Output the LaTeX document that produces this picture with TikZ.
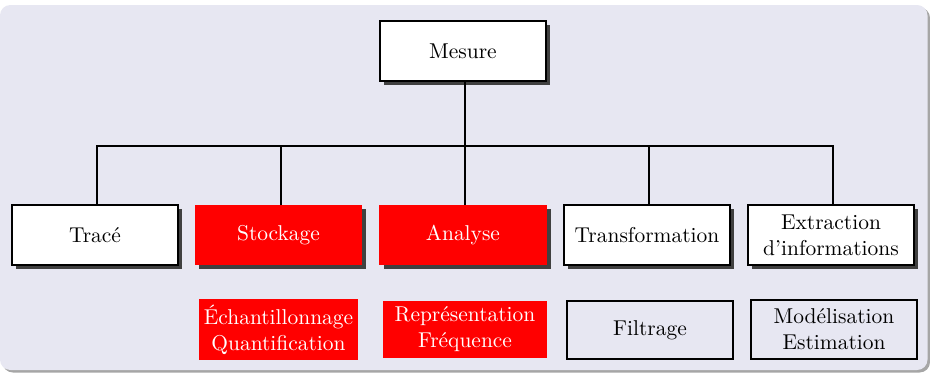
\documentclass[tikz,border=0pt]{standalone}
\usetikzlibrary{shadows}
\definecolor{bgcol}{RGB}{231,231,242}
\definecolor{shcol}{RGB}{64,64,64}
\tikzset{
  base/.style={inner sep=0pt, align=center, font=\fontsize{10.3pt}{12.4pt}\selectfont},
  whitebox/.style={base, draw=black, line width=0.8pt, fill=white,
    drop shadow={shadow xshift=2.1pt, shadow yshift=-2.1pt, fill=shcol, opacity=1}},
  redbox/.style={base, fill=red, text=white,
    drop shadow={shadow xshift=2.1pt, shadow yshift=-2.1pt, fill=shcol, opacity=1}},
  redflat/.style={base, fill=red, text=white},
  plainbox/.style={base, draw=black, line width=0.6pt, fill=bgcol},
  conn/.style={line width=0.7pt, draw=black},
}
\begin{document}
\begin{tikzpicture}[x=0.48pt, y=-0.48pt]
\useasboundingbox (0,0) rectangle (930,373);
% background panel
\fill[gray!70, rounded corners=5pt] (2.5,7.5) rectangle (930,372.5);
\fill[bgcol, rounded corners=5pt] (0,5) rectangle (927.5,370);

% top node
\node[whitebox, minimum width=79.7pt, minimum height=28.8pt] (mesure) at (463,51) {Mesure};

% second row
\node[whitebox, minimum width=79.7pt, minimum height=28.8pt] (trace) at (95,235) {Tracé};
\node[redbox,   minimum width=80.2pt, minimum height=28.8pt] (stock) at (278.5,235) {Stockage};
\node[redbox,   minimum width=80.2pt, minimum height=28.8pt] (analyse) at (463,235) {Analyse};
\node[whitebox, minimum width=79.7pt, minimum height=28.8pt] (transf) at (647,235) {Transformation};
\node[whitebox, minimum width=79.7pt, minimum height=28.8pt] (extr) at (831,235) {Extraction\\d’informations};

% third row
\node[redflat, minimum width=76.3pt, minimum height=29.3pt] (ech) at (278.5,329.5) {Échantillonnage\\Quantification};
\node[redflat, minimum width=78.7pt, minimum height=27.4pt] (rep) at (465,329.5) {Représentation\\Fréquence};
\node[plainbox, minimum width=79.7pt, minimum height=27.8pt] (filt) at (650,330) {Filtrage};
\node[plainbox, minimum width=79.7pt, minimum height=28.3pt] (mod) at (834,329.5) {Modélisation\\Estimation};

% connectors
\coordinate (hub) at (465,146);
\draw[conn] (mesure.south -| hub) -- (hub);
\draw[conn] (trace.north -| 97,0) |- (hub);
\draw[conn] (stock.north -| 281,0) |- (hub);
\draw[conn] (analyse.north -| hub) -- (hub);
\draw[conn] (transf.north -| 649,0) |- (hub);
\draw[conn] (extr.north -| 833,0) |- (hub);
\end{tikzpicture}
\end{document}
